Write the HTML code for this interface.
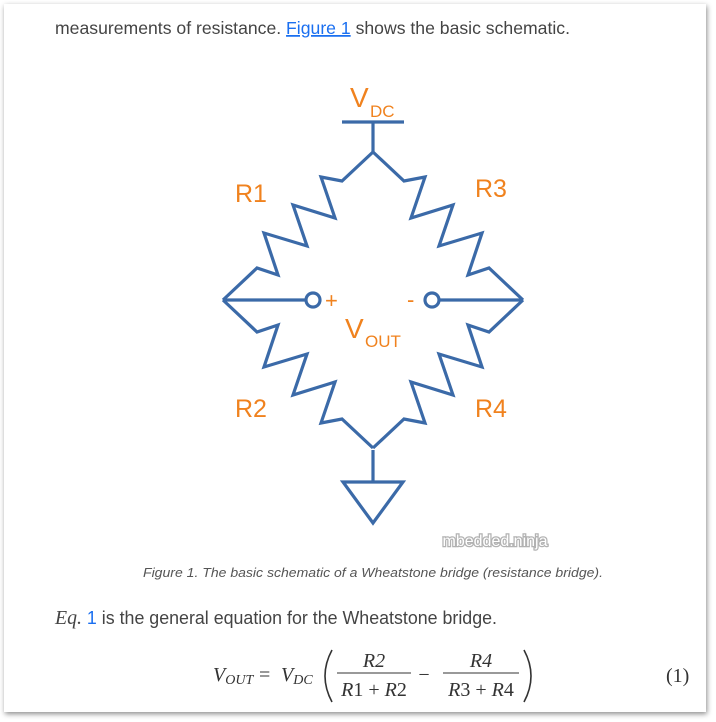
<!DOCTYPE html>
<html><head><meta charset="utf-8"><style>
html,body{margin:0;padding:0;background:#fff;width:716px;height:722px;overflow:hidden}
.card{position:absolute;left:4px;top:4px;width:702px;height:708px;background:#fff;box-shadow:1px 2px 5px rgba(0,0,0,.45)}
svg{position:absolute;left:0;top:0}
</style></head><body>
<div class="card"></div>
<svg width="716" height="722" viewBox="0 0 716 722" xmlns="http://www.w3.org/2000/svg">
<defs>
<g id="res"><polyline fill="none" stroke="#3b6aa8" stroke-width="3.2" stroke-linejoin="miter" points="373,152 342,181 321,177 335,218 293,205 307,246 264,233 278,275 257,268 223,300"/></g>
</defs>
<g font-family="Liberation Sans, sans-serif">
<text x="55" y="34" font-size="17.6" fill="#444" textLength="515" lengthAdjust="spacingAndGlyphs">measurements of resistance. <tspan fill="#1a6ff0" text-decoration="underline">Figure 1</tspan> shows the basic schematic.</text>
</g>
<use href="#res"/>
<use href="#res" transform="translate(746,0) scale(-1,1)"/>
<use href="#res" transform="translate(0,600) scale(1,-1)"/>
<use href="#res" transform="translate(746,600) scale(-1,-1)"/>
<g stroke="#3b6aa8" stroke-width="3.2" fill="none">
<line x1="342" y1="122" x2="404" y2="122"/>
<line x1="373" y1="122" x2="373" y2="152"/>
<line x1="373" y1="450" x2="373" y2="482"/>
<polygon points="343,482 403,482 373,523" stroke-linejoin="miter"/>
<line x1="223" y1="300" x2="306" y2="300"/>
<line x1="439" y1="300" x2="522" y2="300"/>
<circle cx="313" cy="300" r="7" fill="#fff"/>
<circle cx="432" cy="300" r="7" fill="#fff"/>
</g>
<g font-family="Liberation Sans, sans-serif" fill="#f0821e">
<text x="350" y="107" font-size="28">V</text>
<text x="370" y="117" font-size="17">DC</text>
<text x="235" y="202" font-size="25">R1</text>
<text x="475" y="197" font-size="25">R3</text>
<text x="235" y="417" font-size="25">R2</text>
<text x="475" y="417" font-size="25">R4</text>
<text x="325" y="308" font-size="22">+</text>
<text x="407" y="307" font-size="22">-</text>
<text x="345" y="338" font-size="28">V</text>
<text x="365" y="347" font-size="17">OUT</text>
</g>
<text x="495" y="546" font-family="Liberation Sans, sans-serif" font-size="16" text-anchor="middle" fill="#fff" stroke="#aaa" stroke-width="2.5" paint-order="stroke" opacity="0.9">mbedded.ninja</text>
<text x="373" y="577" font-family="Liberation Sans, sans-serif" font-size="12.5" font-style="italic" text-anchor="middle" fill="#555" textLength="460" lengthAdjust="spacingAndGlyphs">Figure 1. The basic schematic of a Wheatstone bridge (resistance bridge).</text>
<text x="55" y="624" font-size="18" fill="#444" font-family="Liberation Sans, sans-serif" textLength="442" lengthAdjust="spacingAndGlyphs"><tspan font-family="Liberation Serif, serif" font-style="italic" font-size="20">Eq.</tspan> <tspan fill="#1a6ff0">1</tspan> is the general equation for the Wheatstone bridge.</text>
<g font-family="Liberation Serif, serif" fill="#333" font-size="20">
<text x="213" y="681" font-style="italic">V<tspan font-size="14" dy="3">OUT</tspan></text>
<text x="259" y="681">=</text>
<text x="281" y="681" font-style="italic">V<tspan font-size="14" dy="3">DC</tspan></text>
<path d="M332,650 Q318,676 332,702" stroke="#333" stroke-width="1.6" fill="none"/>
<text x="374" y="667" text-anchor="middle" font-style="italic">R2</text>
<line x1="337" y1="673" x2="411" y2="673" stroke="#333" stroke-width="1"/>
<text x="374" y="696" text-anchor="middle"><tspan font-style="italic">R</tspan>1 + <tspan font-style="italic">R</tspan>2</text>
<text x="424" y="681" text-anchor="middle">−</text>
<text x="481" y="667" text-anchor="middle" font-style="italic">R4</text>
<line x1="443" y1="673" x2="519" y2="673" stroke="#333" stroke-width="1"/>
<text x="481" y="696" text-anchor="middle"><tspan font-style="italic">R</tspan>3 + <tspan font-style="italic">R</tspan>4</text>
<path d="M524,650 Q538,676 524,702" stroke="#333" stroke-width="1.6" fill="none"/>
<text x="666" y="682">(1)</text>
</g>
</svg>
</body></html>
